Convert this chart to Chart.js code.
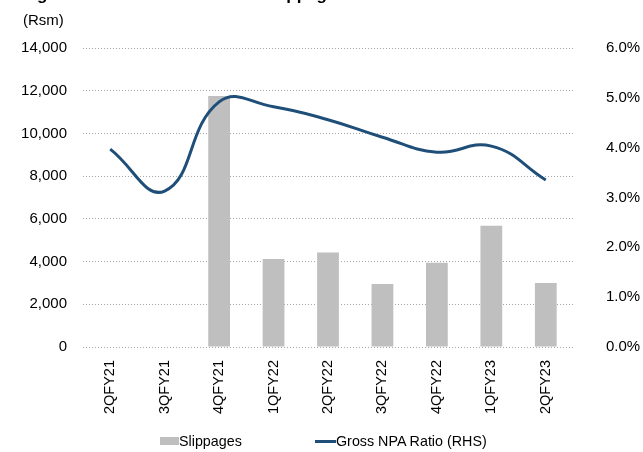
<!DOCTYPE html>
<html>
<head>
<meta charset="utf-8">
<script src="https://cdn.jsdelivr.net/npm/chart.js@4.4.0/dist/chart.umd.min.js"></script>
<style>
  body { margin: 0; background: #fff; }
  #wrap { position: relative; width: 643px; height: 452px; overflow: hidden; font-family: 'Liberation Sans', Arial, sans-serif; color: #000; }
  #title { position: absolute; top: -15px; line-height: 20px; white-space: nowrap; font-weight: bold; font-size: 17px; }
  #unit { position: absolute; left: 23px; top: 11px; line-height: 18px; font-size: 15px; }
  #legend { position: absolute; top: 432px; left: 0; width: 643px; font-size: 14.3px; line-height: 18px; }
  .item { position: absolute; top: 0; white-space: nowrap; }
  .swatch { display: inline-block; vertical-align: middle; margin-top: -2px; }
</style>
</head>
<body>
<div id="wrap">
  <div id="title">Figure 7: Gross NPA ratio and slippages</div>
  <div id="unit">(Rsm)</div>
  <canvas id="chart" width="643" height="452"></canvas>
  <div id="legend">
    <span class="item" style="left:160px"><span class="swatch" style="width:19px;height:8px;background:#bfbfbf;"></span>Slippages</span>
    <span class="item" style="left:315px"><span class="swatch" style="width:21px;height:3px;background:#1f4e79;"></span>Gross NPA Ratio (RHS)</span>
  </div>
</div>
<script>
// Quarterly slippages (Rs mn) and gross NPA ratio (%)
const quarters = ['2QFY21', '3QFY21', '4QFY21', '1QFY22', '2QFY22', '3QFY22', '4QFY22', '1QFY23', '2QFY23'];
const slippages = [null, null, 11750, 4120, 4430, 2950, 3950, 5680, 3000];
const gnpaRatio = [3.97, 3.13, 4.92, 4.82, 4.56, 4.21, 3.91, 4.03, 3.35];

const leftTicks = [0, 2000, 4000, 6000, 8000, 10000, 12000, 14000];
const rightTicks = [0, 1, 2, 3, 4, 5, 6];

const FONT = "'Liberation Sans', Arial, sans-serif";

// line the "pp" of the title up over the middle of the chart
(function placeTitle() {
    const t = document.getElementById('title');
    const c = document.createElement('canvas').getContext('2d');
    c.font = "bold 17px " + FONT;
    const pre = c.measureText('Figure 7: Gross NPA ratio and sli').width;
    t.style.left = (287 - pre) + 'px';
})();

const ctx = document.getElementById('chart').getContext('2d');
const chart = new Chart(ctx, {
    type: 'bar',
    data: {
        labels: quarters,
        datasets: [
            {
                label: 'Gross NPA Ratio (RHS)',
                type: 'line',
                data: gnpaRatio,
                yAxisID: 'y1',
                borderColor: '#1f4e79',
                borderWidth: 3,
                pointRadius: 0,
                tension: 0.45,
                fill: false,
                order: 1
            },
            {
                label: 'Slippages',
                data: slippages,
                yAxisID: 'y',
                backgroundColor: '#bfbfbf',
                categoryPercentage: 1,
                barPercentage: 0.4,
                order: 2
            }
        ]
    },
    options: {
        responsive: false,
        animation: false,
        layout: { padding: { top: 48, left: 0, right: 0, bottom: 0 } },
        plugins: {
            legend: { display: false },
            tooltip: { enabled: false }
        },
        scales: {
            x: {
                grid: { display: false, drawTicks: false },
                border: { display: false },
                ticks: {
                    minRotation: 90, maxRotation: 90,
                    color: '#000',
                    padding: 13,
                    font: { family: FONT, size: 14.5 }
                },
                afterFit: s => { s.height = 105; }
            },
            y: {
                position: 'left',
                min: 0, max: 14000,
                afterBuildTicks: s => { s.ticks = leftTicks.map(v => ({ value: v })); },
                grid: { color: '#a6a6a6', lineWidth: 1, drawTicks: false },
                border: { display: false, dash: [1, 2] },
                ticks: {
                    color: '#000',
                    padding: 16,
                    font: { family: FONT, size: 15 },
                    callback: v => v.toLocaleString('en-US')
                },
                afterFit: s => { s.width = 83; }
            },
            y1: {
                position: 'right',
                min: 0, max: 6,
                afterBuildTicks: s => { s.ticks = rightTicks.map(v => ({ value: v })); },
                grid: { display: false, drawTicks: false },
                border: { display: false },
                ticks: {
                    color: '#000',
                    padding: 33,
                    font: { family: FONT, size: 15 },
                    callback: v => v.toFixed(1) + '%'
                },
                afterFit: s => { s.width = 70; }
            }
        }
    }
});
</script>
</body>
</html>
